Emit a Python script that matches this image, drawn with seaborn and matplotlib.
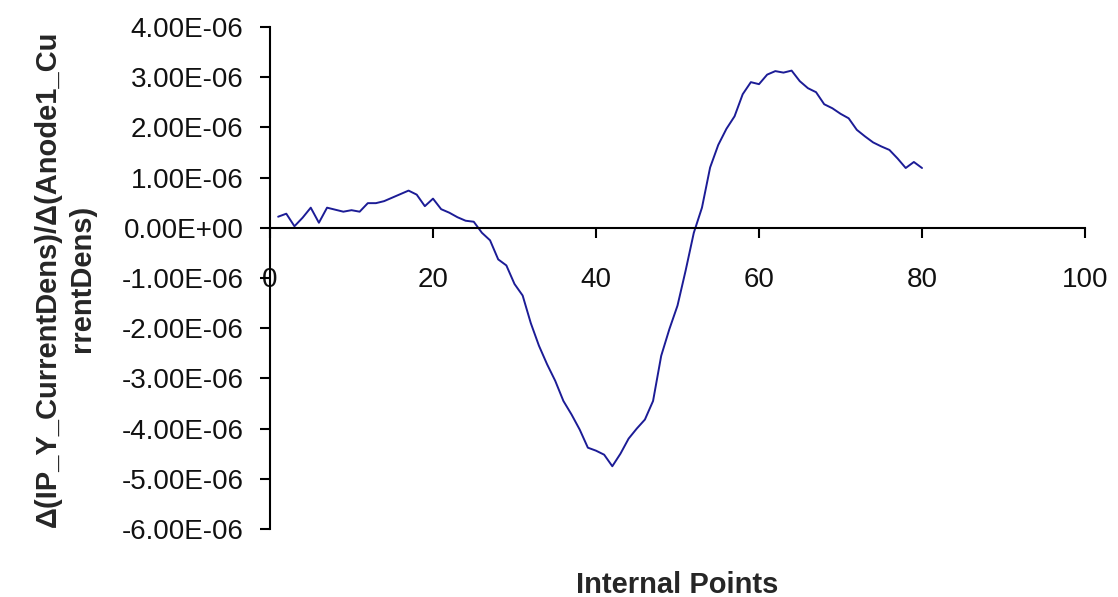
import matplotlib
matplotlib.use("Agg")
import matplotlib.pyplot as plt
import seaborn as sns
import numpy as np
import pandas as pd

# ---- data ----
internal_points = list(range(1, 81))
values_e6 = [
    0.22, 0.28, 0.03, 0.20, 0.40, 0.10, 0.40, 0.36, 0.32, 0.35,
    0.32, 0.49, 0.49, 0.53, 0.60, 0.67, 0.74, 0.66, 0.43, 0.58,
    0.37, 0.30, 0.21, 0.14, 0.12, -0.10, -0.25, -0.63, -0.75, -1.12,
    -1.35, -1.90, -2.35, -2.72, -3.05, -3.45, -3.72, -4.02, -4.38, -4.44,
    -4.52, -4.75, -4.50, -4.20, -4.00, -3.82, -3.45, -2.55, -2.02, -1.55,
    -0.85, -0.10, 0.40, 1.20, 1.65, 1.97, 2.22, 2.66, 2.90, 2.86,
    3.05, 3.12, 3.09, 3.13, 2.92, 2.78, 2.70, 2.46, 2.38, 2.27,
    2.18, 1.95, 1.82, 1.70, 1.62, 1.55, 1.38, 1.19, 1.31, 1.19,
]
y_ticks = [4e-6, 3e-6, 2e-6, 1e-6, 0.0, -1e-6, -2e-6, -3e-6, -4e-6, -5e-6, -6e-6]
x_ticks = [0, 20, 40, 60, 80, 100]
x_label = "Internal Points"
y_label = "\u0394(IP_Y_CurrentDens)/\u0394(Anode1_Cu\nrrentDens)"

df = pd.DataFrame({"x": internal_points, "y": [v * 1e-6 for v in values_e6]})

sns.set_style("white")
plt.rcParams["font.family"] = ["Liberation Sans", "DejaVu Sans"]

fig = plt.figure(figsize=(11.18, 5.97), dpi=100)
ax = fig.add_axes([0.2415, 0.1139, 0.729, 0.841])

sns.lineplot(data=df, x="x", y="y", ax=ax, color="#1c1c96", linewidth=1.4)

ax.set_xlim(0, 100)
ax.set_ylim(-6e-6, 4e-6)
ax.set_xticks(x_ticks)
ax.set_xticklabels([str(t) for t in x_ticks])
ax.set_yticks(y_ticks)
ax.set_yticklabels([f"{v:.2E}" for v in y_ticks])

for side in ["top", "right"]:
    ax.spines[side].set_visible(False)
ax.spines["bottom"].set_position(("data", 0))
for side in ["left", "bottom"]:
    ax.spines[side].set_color("black")
    ax.spines[side].set_linewidth(1.5)

ax.tick_params(axis="both", direction="out", length=7, width=1.5, color="black",
               labelsize=20, labelcolor="#111111", bottom=True, left=True)
ax.tick_params(axis="x", pad=21)
ax.tick_params(axis="y", pad=12)
ax.set_xlabel("")
ax.set_ylabel("")

fig.text(0.058, 0.533, y_label, rotation=90, ha="center", va="center",
         multialignment="center", fontsize=21, fontweight="bold", linespacing=1.3)
fig.text(0.606, 0.02, x_label, ha="center", va="center",
         fontsize=21, fontweight="bold")

fig.savefig("out.png", dpi=100)
